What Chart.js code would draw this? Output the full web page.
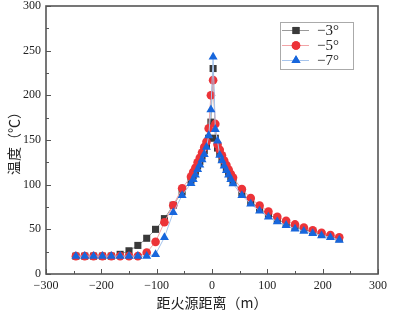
<!DOCTYPE html>
<html>
<head>
<meta charset="utf-8">
<script src="https://cdn.jsdelivr.net/npm/chart.js@4/dist/chart.umd.min.js"></script>
<style>
    html, body { margin: 0; padding: 0; background: #fff; }
    #wrap { width: 393px; height: 312px; }
</style>
</head>
<body>
<div id="wrap"><canvas id="tempChart" width="393" height="312"></canvas></div>
<script>
// distance from fire source (m)
const distances = [
    -246, -230, -214, -198, -182, -166, -150, -134, -118, -102, -86, -70, -54, -38,
    -34, -30, -26, -22, -18, -14, -10, -6, -2,
    2,
    6, 10, 14, 18, 22, 26, 30, 34, 38,
    54, 70, 86, 102, 118, 134, 150, 166, 182, 198, 214, 230
];

// temperature (℃) for each slope
const temp3 = [
    20, 20, 20, 20, 20, 22, 26, 32, 40, 50, 62, 77, 92, 105,
    110, 115, 121, 126, 132, 138, 144, 152, 170,
    230,
    152, 141, 135, 129, 124, 119, 114, 109, 104,
    91, 81, 73, 67, 61, 56.5, 52.5, 50, 47, 44.5, 42, 39.5
];
const temp5 = [
    20, 20, 20, 20, 20, 20, 20, 20, 24, 36, 58, 77, 96, 109,
    114, 119, 125, 130, 136, 142, 148, 163, 200,
    217,
    168, 145, 139, 133, 127, 122, 117, 112, 108,
    95, 85, 76.5, 70, 64, 59.5, 55.5, 52, 49, 46, 43.5, 41
];
const temp7 = [
    20, 20, 20, 20, 20, 20, 20, 20, 20, 22, 41, 69, 88, 101.5,
    106, 111, 117, 122, 128, 134, 142, 155, 184,
    243,
    162, 149, 133, 127, 121, 116, 111, 106, 101,
    88, 78.5, 70.5, 64, 58.5, 54.5, 50.5, 48, 45.5, 43, 41, 38
];

const seriesLabels = ["−3°", "−5°", "−7°"];
const xTicks = [-300, -200, -100, 0, 100, 200, 300];
const yTicks = [0, 50, 100, 150, 200, 250, 300];

const serif = "'Liberation Serif', 'Times New Roman', serif";
const cjk = "'Noto Sans CJK SC', 'Noto Sans', sans-serif";

function toPoints(ys) {
    return distances.map((d, i) => ({ x: d, y: ys[i] }));
}

function minusSign(v) {
    return String(v).replace("-", "−");
}

// inward ticks + closed frame
const frameTicks = {
    id: "frameTicks",
    beforeDatasetsDraw(chart) {
        const { ctx, chartArea: a } = chart;
        const x = chart.scales.x;
        const y = chart.scales.y;
        ctx.save();
        ctx.strokeStyle = "#555";
        ctx.lineWidth = 1;
        ctx.beginPath();
        for (let v = -300; v <= 300; v += 50) {
            const px = Math.round(x.getPixelForValue(v)) + 0.5;
            const len = xTicks.includes(v) ? 5 : 3;
            ctx.moveTo(px, a.bottom);
            ctx.lineTo(px, a.bottom - len);
        }
        for (let v = 0; v <= 300; v += 25) {
            const py = Math.round(y.getPixelForValue(v)) + 0.5;
            const len = yTicks.includes(v) ? 5 : 3;
            ctx.moveTo(a.left, py);
            ctx.lineTo(a.left + len, py);
        }
        ctx.stroke();
        ctx.lineWidth = 1.6;
        ctx.strokeStyle = "#555";
        ctx.strokeRect(a.left, a.top, a.right - a.left, a.bottom - a.top);
        ctx.restore();
    }
};

// legend box in the upper right of the plot
const boxLegend = {
    id: "boxLegend",
    afterDraw(chart) {
        const ctx = chart.ctx;
        const bx = 280, by = 22, bw = 73, bh = 47;
        ctx.save();
        ctx.fillStyle = "#fff";
        ctx.fillRect(bx, by, bw, bh);
        ctx.strokeStyle = "#aaa";
        ctx.lineWidth = 1;
        ctx.strokeRect(bx + 0.5, by + 0.5, bw, bh);
        chart.data.datasets.forEach((ds, i) => {
            const cy = by + 8.5 + i * 15;
            ctx.strokeStyle = ds.borderColor;
            ctx.lineWidth = 1;
            ctx.beginPath();
            ctx.moveTo(bx + 2, cy);
            ctx.lineTo(bx + 29, cy);
            ctx.stroke();
            ctx.fillStyle = ds.pointBackgroundColor;
            Chart.helpers.drawPoint(ctx, {
                pointStyle: ds.pointStyle,
                radius: ds.pointRadius,
                rotation: 0,
                borderWidth: 0
            }, bx + 16, cy);
            ctx.fill();
            ctx.fillStyle = "#222";
            ctx.font = "15px " + serif;
            ctx.textBaseline = "middle";
            ctx.textAlign = "left";
            ctx.fillText(ds.label, bx + 37, cy + 1);
        });
        ctx.restore();
    }
};

const ctx = document.getElementById("tempChart");

new Chart(ctx, {
    type: "scatter",
    data: {
        datasets: [
            {
                label: seriesLabels[0],
                data: toPoints(temp3),
                showLine: true,
                borderColor: "#9a9a9a",
                borderWidth: 1,
                pointStyle: "rect",
                pointRadius: 5,
                pointBackgroundColor: "#3a3a3a",
                pointBorderWidth: 0,
                order: 3
            },
            {
                label: seriesLabels[1],
                data: toPoints(temp5),
                showLine: true,
                borderColor: "#f2a4a6",
                borderWidth: 1,
                pointStyle: "circle",
                pointRadius: 4.3,
                pointBackgroundColor: "#ec3338",
                pointBorderWidth: 0,
                order: 2
            },
            {
                label: seriesLabels[2],
                data: toPoints(temp7),
                showLine: true,
                borderColor: "#a6c4ec",
                borderWidth: 1,
                pointStyle: "triangle",
                pointRadius: 5.2,
                pointBackgroundColor: "#1766dc",
                pointBorderWidth: 0,
                order: 1
            }
        ]
    },
    options: {
        responsive: false,
        animation: false,
        devicePixelRatio: 1,
        layout: {
            padding: { top: 6, right: 15, left: 0, bottom: 0 }
        },
        plugins: {
            legend: { display: false },
            tooltip: { enabled: false }
        },
        scales: {
            x: {
                type: "linear",
                min: -300,
                max: 300,
                afterBuildTicks(scale) {
                    scale.ticks = xTicks.map(v => ({ value: v }));
                },
                afterFit(scale) {
                    scale.height = 38;
                },
                ticks: {
                    padding: 5,
                    color: "#222",
                    font: { family: serif, size: 12 },
                    callback: v => minusSign(v)
                },
                grid: { display: false, drawTicks: false },
                border: { display: false },
                title: {
                    display: true,
                    text: "距火源距离（m）",
                    color: "#222",
                    font: { family: cjk, size: 14 },
                    padding: { top: 0, bottom: 1 }
                }
            },
            y: {
                min: 0,
                max: 300,
                afterBuildTicks(scale) {
                    scale.ticks = yTicks.map(v => ({ value: v }));
                },
                afterFit(scale) {
                    scale.width = 46;
                    scale.paddingTop = 0;
                    scale.paddingBottom = 0;
                },
                ticks: {
                    padding: 5,
                    color: "#222",
                    font: { family: serif, size: 12 }
                },
                grid: { display: false, drawTicks: false },
                border: { display: false },
                title: {
                    display: true,
                    text: "温度（℃）",
                    color: "#222",
                    font: { family: cjk, size: 14 },
                    padding: { top: 5, bottom: 0 }
                }
            }
        }
    },
    plugins: [frameTicks, boxLegend]
});
</script>
</body>
</html>
